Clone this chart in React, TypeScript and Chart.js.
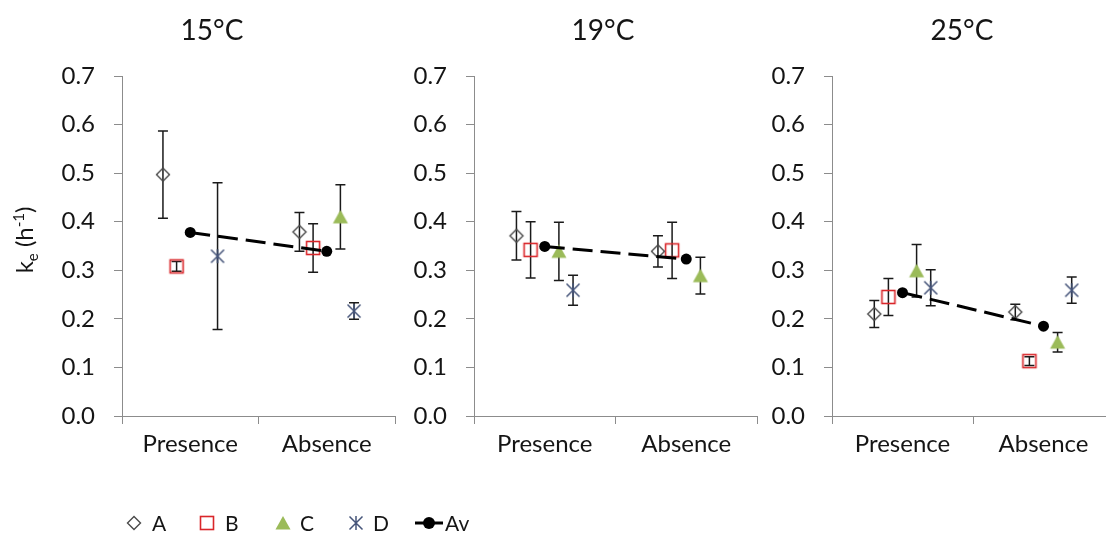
import React, { useEffect, useRef } from 'react';
import { Chart, registerables } from 'chart.js';

Chart.register(...registerables);

// ---------- DATA ----------
const categories = ['Presence', 'Absence'];
const panelTitles = ['15°C', '19°C', '25°C'];
const seriesNames = ['A', 'B', 'C', 'D', 'Av'];

// one row per panel (15, 19, 25 °C): [Presence, Absence]
const valuesA = [[0.497, 0.379], [0.371, 0.339], [0.21, 0.214]];
const errA = [[0.09, 0.04], [0.05, 0.032], [0.028, 0.016]];
const valuesB = [[0.308, 0.346], [0.342, 0.341], [0.245, 0.113]];
const errB = [[0.01, 0.05], [0.058, 0.058], [0.038, 0.009]];
const valuesC = [[null, 0.41], [0.339, 0.289], [0.299, 0.152]];
const errC = [[null, 0.066], [0.06, 0.038], [0.054, 0.02]];
const valuesD = [[0.329, 0.216], [0.259, null], [0.264, 0.259]];
const errD = [[0.151, 0.017], [0.031, null], [0.037, 0.027]];
const valuesAv = [[0.378, 0.339], [0.349, 0.323], [0.254, 0.185]];

const yTicks = [0, 0.1, 0.2, 0.3, 0.4, 0.5, 0.6, 0.7];

// ---------- STYLE / LAYOUT ----------
const FONT = 'Lato, "Open Sans", sans-serif';
const TEXT = '#151515';
const AXIS = '#8c8c8c';
const COL_A = '#4a4a4a';
const COL_B = '#d9262a';
const COL_C = '#9bbb59';
const COL_D = '#46557a';
const SERIES_OFFSET = [-0.2, -0.1, 0.1, 0.2, 0]; // A, B, C, D, Av within a category

const PANELS = [
  { left: 0, width: 410, yAxisWidth: 122, padRight: 15, titleX: 212 },
  { left: 410, width: 355, yAxisWidth: 64, padRight: 8, titleX: 193 },
  { left: 765, width: 360, yAxisWidth: 67, padRight: 11, titleX: 197 },
];
const PANEL_H = 470;
const PAD_TOP = 76;
const X_AXIS_H = 54;

function makeCanvas(w: number, h: number) {
  const c = document.createElement('canvas');
  c.width = w;
  c.height = h;
  return c;
}

function makeMarker(kind: string): HTMLCanvasElement {
  const c = makeCanvas(18, 18);
  const g = c.getContext('2d')!;
  const m = 9;
  if (kind === 'diamond') {
    g.strokeStyle = COL_A;
    g.lineWidth = 1.4;
    g.beginPath();
    g.moveTo(m - 6.5, m);
    g.lineTo(m, m - 6.5);
    g.lineTo(m + 6.5, m);
    g.lineTo(m, m + 6.5);
    g.closePath();
    g.stroke();
  } else if (kind === 'square') {
    g.strokeStyle = COL_B;
    g.lineWidth = 1.6;
    g.strokeRect(m - 6.5, m - 6.5, 13, 13);
  } else if (kind === 'triangle') {
    g.fillStyle = COL_C;
    g.beginPath();
    g.moveTo(m, m - 7);
    g.lineTo(m + 7.5, m + 6.5);
    g.lineTo(m - 7.5, m + 6.5);
    g.closePath();
    g.fill();
  } else if (kind === 'star') {
    g.strokeStyle = COL_D;
    g.lineWidth = 1.5;
    g.beginPath();
    g.moveTo(m - 6.5, m - 6.5);
    g.lineTo(m + 6.5, m + 6.5);
    g.moveTo(m + 6.5, m - 6.5);
    g.lineTo(m - 6.5, m + 6.5);
    g.moveTo(m, m - 7);
    g.lineTo(m, m + 7);
    g.stroke();
  }
  return c;
}

const errorBarPlugin = {
  id: 'errorBars',
  beforeDatasetsDraw(chart: any) {
    const { ctx } = chart;
    const xs = chart.scales.x;
    const ys = chart.scales.y;
    ctx.save();
    ctx.strokeStyle = '#1a1a1a';
    ctx.lineWidth = 1.5;
    chart.data.datasets.forEach((ds: any) => {
      ds.data.forEach((pt: any) => {
        if (pt.err == null) return;
        const px = xs.getPixelForValue(pt.x);
        const top = ys.getPixelForValue(pt.y + pt.err);
        const bot = ys.getPixelForValue(pt.y - pt.err);
        ctx.beginPath();
        ctx.moveTo(px, top);
        ctx.lineTo(px, bot);
        ctx.moveTo(px - 5, top);
        ctx.lineTo(px + 5, top);
        ctx.moveTo(px - 5, bot);
        ctx.lineTo(px + 5, bot);
        ctx.stroke();
      });
    });
    ctx.restore();
  },
};

const panelTextPlugin = {
  id: 'panelText',
  afterDraw(chart: any, _args: any, opts: any) {
    const { ctx } = chart;
    ctx.save();
    ctx.fillStyle = TEXT;
    ctx.font = `28px ${FONT}`;
    ctx.textAlign = 'center';
    ctx.textBaseline = 'middle';
    ctx.fillText(opts.title, opts.titleX, 31);
    if (opts.yTitle) {
      ctx.translate(33, 240);
      ctx.rotate(-Math.PI / 2);
      ctx.textAlign = 'left';
      ctx.textBaseline = 'alphabetic';
      const big = `24px ${FONT}`;
      const small = `15px ${FONT}`;
      const parts = [
        { t: 'k', f: big, dy: 0 },
        { t: 'e', f: small, dy: 5 },
        { t: ' (h', f: big, dy: 0 },
        { t: '-1', f: small, dy: -9 },
        { t: ')', f: big, dy: 0 },
      ];
      let total = 0;
      parts.forEach((p) => {
        ctx.font = p.f;
        total += ctx.measureText(p.t).width;
      });
      let x = -total / 2;
      parts.forEach((p) => {
        ctx.font = p.f;
        ctx.fillText(p.t, x, p.dy);
        x += ctx.measureText(p.t).width;
      });
    }
    ctx.restore();
  },
};

function buildPoints(vals: (number | null)[], errs: (number | null)[] | null, offset: number) {
  const pts: any[] = [];
  categories.forEach((_c, i) => {
    const v = vals[i];
    if (v == null) return;
    pts.push({ x: i + 1 + offset, y: v, err: errs ? errs[i] : null });
  });
  return pts;
}

function panelConfig(p: number, markers: any): any {
  const layout = PANELS[p];
  const mk = (name: string, vals: any, errs: any, idx: number, style: any) => ({
    label: name,
    data: buildPoints(vals[p], errs ? errs[p] : null, SERIES_OFFSET[idx]),
    pointStyle: style,
    pointRadius: 7,
    pointHoverRadius: 7,
    showLine: false,
  });
  const datasets = [
    {
      label: seriesNames[4],
      data: buildPoints(valuesAv[p], null, SERIES_OFFSET[4]),
      showLine: true,
      borderColor: '#000',
      borderWidth: 3,
      borderDash: [20, 8],
      pointStyle: 'circle',
      pointRadius: 5.5,
      pointBackgroundColor: '#000',
      pointBorderColor: '#000',
      pointBorderWidth: 0,
      backgroundColor: '#000',
    },
    mk(seriesNames[0], valuesA, errA, 0, markers.A),
    mk(seriesNames[1], valuesB, errB, 1, markers.B),
    mk(seriesNames[2], valuesC, errC, 2, markers.C),
    mk(seriesNames[3], valuesD, errD, 3, markers.D),
  ];
  const isBoundary = (v: number) => Math.abs(v - Math.round(v)) > 0.25;
  return {
    type: 'scatter',
    data: { datasets },
    options: {
      responsive: false,
      animation: false,
      events: [],
      layout: { padding: { top: PAD_TOP, left: 0, right: layout.padRight, bottom: 0 } },
      plugins: {
        legend: { display: false },
        tooltip: { enabled: false },
        panelText: { title: panelTitles[p], titleX: layout.titleX, yTitle: p === 0 },
      },
      scales: {
        x: {
          type: 'linear',
          min: 0.5,
          max: 2.5,
          afterBuildTicks: (s: any) => {
            s.ticks = [0.5, 1, 1.5, 2, 2.5].map((v) => ({ value: v }));
          },
          afterFit: (s: any) => {
            s.height = X_AXIS_H;
          },
          ticks: {
            autoSkip: false,
            maxRotation: 0,
            minRotation: 0,
            padding: 6,
            color: TEXT,
            font: { family: FONT, size: 24 },
            callback: (v: number) => (isBoundary(v) ? '' : categories[Math.round(v) - 1]),
          },
          grid: {
            drawOnChartArea: false,
            drawTicks: true,
            tickLength: 8,
            lineWidth: 1,
            color: (ctx: any) => (ctx.tick && isBoundary(ctx.tick.value) ? AXIS : 'rgba(0,0,0,0)'),
          },
          border: { display: true, color: AXIS, width: 1 },
        },
        y: {
          type: 'linear',
          min: 0,
          max: 0.7,
          afterBuildTicks: (s: any) => {
            s.ticks = yTicks.map((v) => ({ value: v }));
          },
          afterFit: (s: any) => {
            s.width = layout.yAxisWidth;
          },
          ticks: {
            padding: 19,
            color: TEXT,
            font: { family: FONT, size: 24 },
            callback: (v: number) => Number(v).toFixed(1),
          },
          grid: { drawOnChartArea: false, drawTicks: true, tickLength: 8, color: AXIS, lineWidth: 1 },
          border: { display: true, color: AXIS, width: 1 },
        },
      },
    },
    plugins: [errorBarPlugin, panelTextPlugin],
  };
}

const LEGEND_ITEMS = [
  { key: 'A', marker: 134, text: 152 },
  { key: 'B', marker: 207, text: 225 },
  { key: 'C', marker: 283, text: 300 },
  { key: 'D', marker: 356, text: 373 },
  { key: 'Av', marker: 429, text: 445 },
];

function legendConfig(markers: any): any {
  const legendPlugin = {
    id: 'customLegend',
    afterDraw(chart: any) {
      const { ctx } = chart;
      const cy = 53;
      ctx.save();
      ctx.font = `21px ${FONT}`;
      ctx.fillStyle = TEXT;
      ctx.textBaseline = 'middle';
      ctx.textAlign = 'left';
      LEGEND_ITEMS.forEach((it, i) => {
        if (it.key === 'Av') {
          ctx.strokeStyle = '#000';
          ctx.lineWidth = 3;
          ctx.beginPath();
          ctx.moveTo(it.marker - 14, cy);
          ctx.lineTo(it.marker + 14, cy);
          ctx.stroke();
          ctx.fillStyle = '#000';
          ctx.beginPath();
          ctx.arc(it.marker, cy, 6, 0, Math.PI * 2);
          ctx.fill();
          ctx.fillStyle = TEXT;
        } else {
          const img = markers[it.key];
          ctx.drawImage(img, it.marker - img.width / 2, cy - img.height / 2);
        }
        ctx.fillText(seriesNames[i], it.text, cy + 1);
      });
      ctx.restore();
    },
  };
  return {
    type: 'scatter',
    data: { datasets: [] },
    options: {
      responsive: false,
      animation: false,
      events: [],
      plugins: { legend: { display: false }, tooltip: { enabled: false } },
      scales: { x: { display: false }, y: { display: false } },
    },
    plugins: [legendPlugin],
  };
}

export default function App() {
  const canvases = useRef<(HTMLCanvasElement | null)[]>([]);
  const legendRef = useRef<HTMLCanvasElement | null>(null);

  useEffect(() => {
    const markers = {
      A: makeMarker('diamond'),
      B: makeMarker('square'),
      C: makeMarker('triangle'),
      D: makeMarker('star'),
    };
    const charts: Chart[] = [];
    PANELS.forEach((_l, i) => {
      const c = canvases.current[i];
      if (c) charts.push(new Chart(c, panelConfig(i, markers)));
    });
    if (legendRef.current) charts.push(new Chart(legendRef.current, legendConfig(markers)));
    return () => charts.forEach((c) => c.destroy());
  }, []);

  return (
    <div
      style={{
        position: 'absolute',
        left: 0,
        top: 0,
        width: 1106,
        height: 535,
        overflow: 'hidden',
        background: '#fff',
      }}
    >
      {PANELS.map((l, i) => (
        <canvas
          key={i}
          ref={(el) => {
            canvases.current[i] = el;
          }}
          width={l.width}
          height={PANEL_H}
          style={{ position: 'absolute', left: l.left, top: 0, width: l.width, height: PANEL_H }}
        />
      ))}
      <canvas
        ref={legendRef}
        width={1106}
        height={65}
        style={{ position: 'absolute', left: 0, top: PANEL_H, width: 1106, height: 65 }}
      />
    </div>
  );
}
